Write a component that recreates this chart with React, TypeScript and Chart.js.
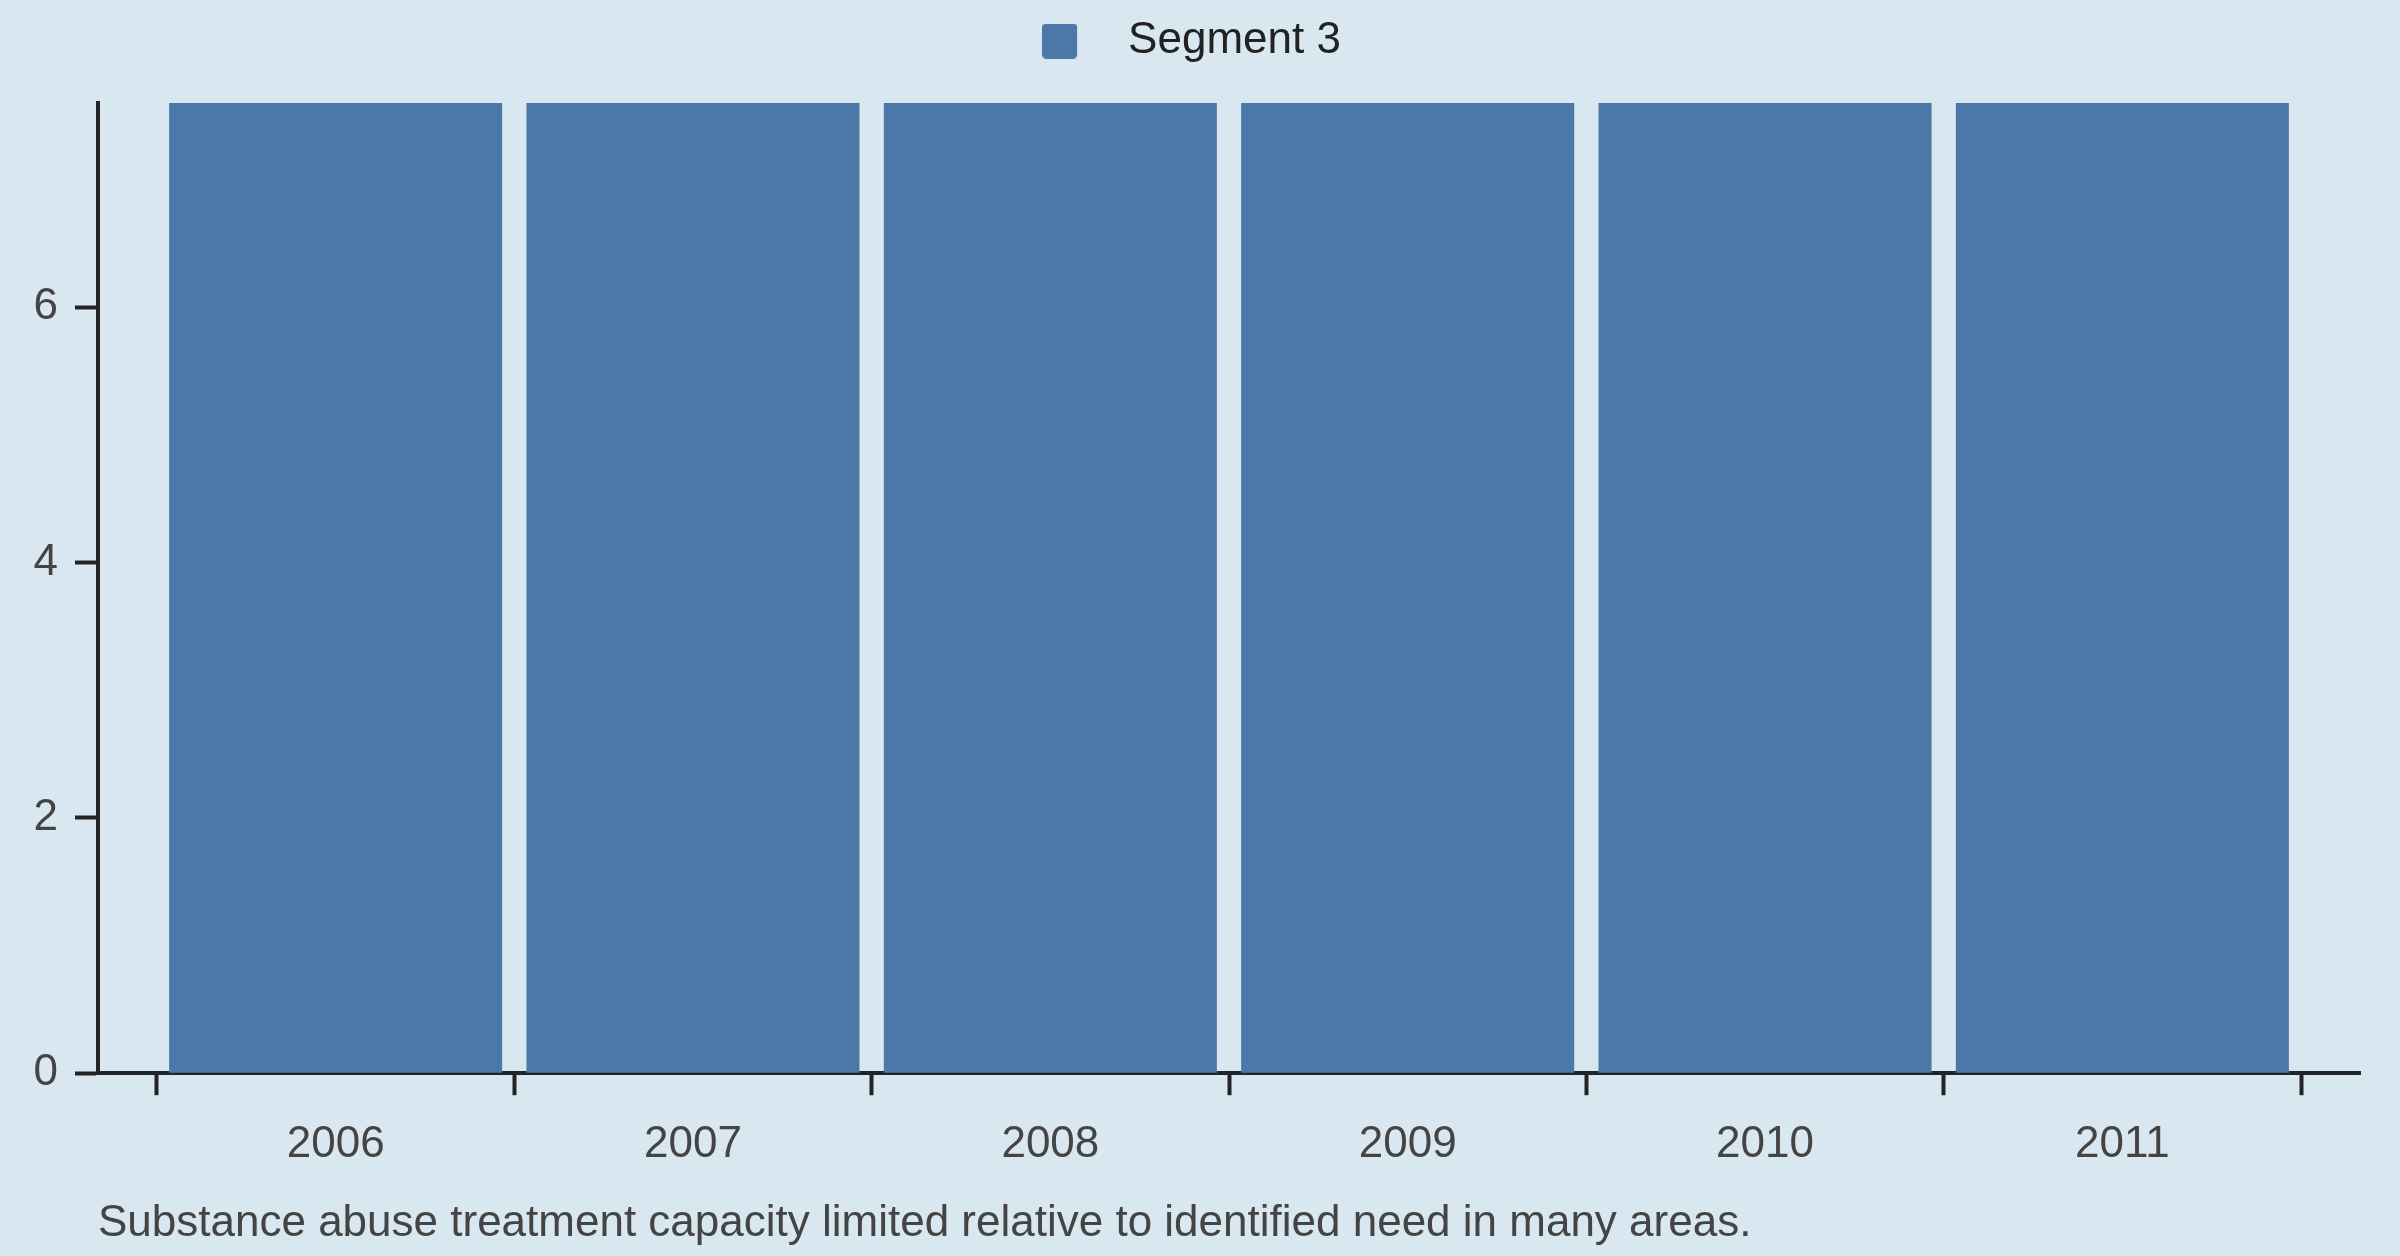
import { useEffect, useRef } from "react";
import { Chart, registerables } from "chart.js";

Chart.register(...registerables);

const years = [2006, 2007, 2008, 2009, 2010, 2011];
const segment3 = [7.6, 7.6, 7.6, 7.6, 7.6, 7.6];
const yTicks = [0, 2, 4, 6];
const yMax = 7.6;
const seriesLabel = "Segment 3";
const caption =
  "Substance abuse treatment capacity limited relative to identified need in many areas.";

const BG = "#d9e7f0";
const BAR = "#4c78a8";
const AXIS = "#222428";
const TEXT = "#444444";
const FONT = "'Liberation Sans', Arial, Helvetica, sans-serif";

// legend swatch: square on the left, blank room on the right to widen the gap to the text
function makeSwatch() {
  const c = document.createElement("canvas");
  c.width = 64;
  c.height = 35;
  const g = c.getContext("2d");
  if (g) {
    g.fillStyle = BAR;
    g.beginPath();
    g.roundRect(0, 0, 35, 35, 4);
    g.fill();
  }
  return c;
}

const legendGap = {
  id: "legendGap",
  beforeLayout(chart: any) {
    const legend = chart.legend;
    if (!legend || legend._gapPatched) return;
    const fit = legend.fit;
    legend.fit = function () {
      fit.call(this);
      this.height += 30;
    };
    legend._gapPatched = true;
  },
};

const captionPlugin = {
  id: "caption",
  afterDraw(chart: any) {
    const { ctx, chartArea } = chart;
    ctx.save();
    ctx.font = `44px ${FONT}`;
    ctx.fillStyle = TEXT;
    ctx.textAlign = "left";
    ctx.textBaseline = "alphabetic";
    ctx.fillText(caption, chartArea.left, chart.height - 20);
    ctx.restore();
  },
};

function BarChart() {
  const canvasRef = useRef<HTMLCanvasElement>(null);
  const chartRef = useRef<Chart | null>(null);

  useEffect(() => {
    if (!canvasRef.current) return;
    if (chartRef.current) chartRef.current.destroy();

    const ctx = canvasRef.current.getContext("2d");
    if (!ctx) return;

    const tickFont = { size: 44, family: FONT };
    const first = years[0];
    const last = years[years.length - 1];

    chartRef.current = new Chart(ctx, {
      type: "bar",
      data: {
        datasets: [
          {
            label: seriesLabel,
            data: years.map((yr, i) => ({ x: yr, y: segment3[i] })),
            backgroundColor: BAR,
            borderWidth: 0,
            barPercentage: 0.932,
            categoryPercentage: 1,
          },
        ],
      },
      options: {
        animation: false,
        responsive: true,
        maintainAspectRatio: false,
        layout: { padding: { left: 23, right: 40, top: 0, bottom: 62 } },
        plugins: {
          legend: {
            position: "top",
            align: "center",
            labels: {
              usePointStyle: true,
              pointStyle: makeSwatch(),
              pointStyleWidth: 64,
              boxHeight: 35,
              padding: 19,
              color: "#222222",
              font: { size: 44, family: FONT },
            },
          },
          tooltip: { enabled: false },
        },
        scales: {
          x: {
            type: "linear",
            offset: false,
            min: first - 0.665,
            max: last + 0.665,
            z: 1,
            afterBuildTicks: (scale: any) => {
              const t = years.map((yr) => ({ value: yr - 0.5 }));
              t.push({ value: last + 0.5 });
              scale.ticks = t;
            },
            ticks: {
              autoSkip: false,
              maxRotation: 0,
              labelOffset: 178.7,
              padding: 23,
              color: TEXT,
              font: tickFont,
              callback: (value: any) => {
                const yr = Math.round(Number(value) + 0.5);
                return years.includes(yr) ? String(yr) : "";
              },
            },
            grid: {
              offset: false,
              drawOnChartArea: false,
              tickLength: 22,
              tickWidth: 4,
              tickColor: AXIS,
            },
            border: { display: true, color: AXIS, width: 4 },
          },
          y: {
            min: 0,
            max: yMax,
            z: 1,
            afterBuildTicks: (scale: any) => {
              scale.ticks = yTicks.map((v) => ({ value: v }));
            },
            afterFit: (scale: any) => {
              scale.width = 75;
            },
            ticks: {
              padding: 17,
              color: TEXT,
              font: tickFont,
            },
            grid: {
              drawOnChartArea: false,
              tickLength: 23,
              tickWidth: 4,
              tickColor: AXIS,
            },
            border: { display: true, color: AXIS, width: 4 },
          },
        },
      },
      plugins: [legendGap, captionPlugin],
    } as any);

    return () => {
      if (chartRef.current) {
        chartRef.current.destroy();
        chartRef.current = null;
      }
    };
  }, []);

  return (
    <div
      style={{
        position: "fixed",
        left: 0,
        top: 0,
        width: "100vw",
        height: "100vh",
        background: BG,
      }}
    >
      <canvas ref={canvasRef}></canvas>
    </div>
  );
}

export default function App() {
  return <BarChart />;
}
